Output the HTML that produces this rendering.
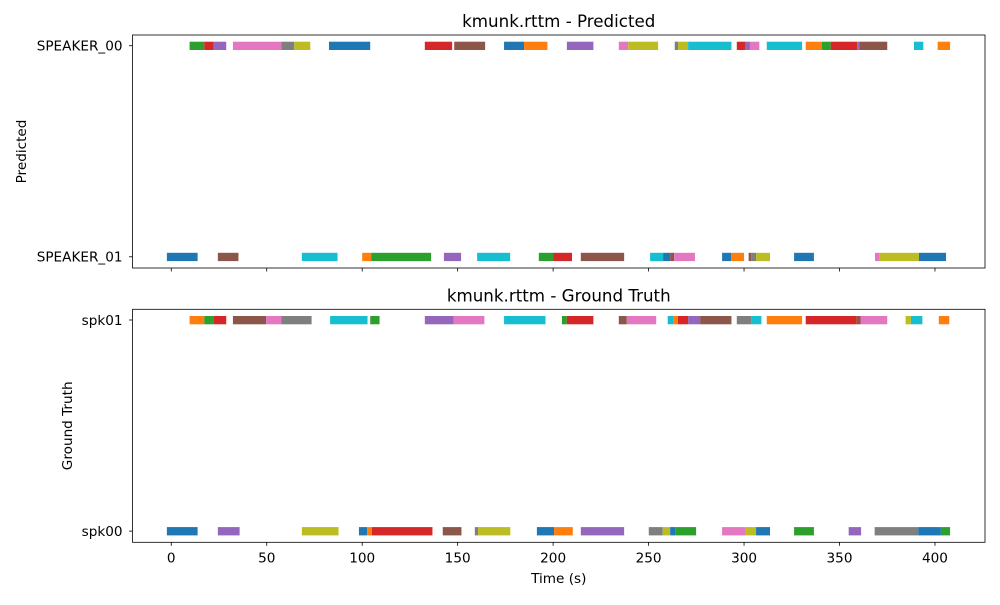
<!DOCTYPE html>
<html><head><meta charset="utf-8"><style>
body{margin:0;background:#fff}
svg text{font-family:"DejaVu Sans","Liberation Sans",sans-serif;fill:#000}
</style></head><body>
<svg id="chart" width="1000" height="600" xmlns="http://www.w3.org/2000/svg"></svg>
<script>
const xTicks=[0,50,100,150,200,250,300,350,400];
const predSpeakers=["SPEAKER_00","SPEAKER_01"];
const gtSpeakers=["spk01","spk00"];
// Predicted SPEAKER_00
const p0Start=[9.6,17.3,22.2,32.3,57.6,64.4,82.6,132.8,148.2,174.3,184.8,207.2,234.4,239.3,263.7,265.4,270.7,296.2,300.7,303.1,311.9,332.3,340.8,345.4,359.3,360.4,389,401.4];
const p0End=[17.3,22.2,28.8,57.6,64.4,72.8,104.2,147.1,164.4,184.8,197,221.1,239.3,255,265.4,270.7,293.4,300.7,303.1,308,330.4,340.8,345.4,359.3,360.4,375,393.9,407.9];
const p0Col=[2,3,4,6,7,8,0,3,5,0,1,4,6,8,7,8,9,3,4,6,9,1,2,3,4,5,9,1];
// Predicted SPEAKER_01
const p1Start=[-2.3,24.4,68.4,100,104.7,142.8,160.2,192.5,200.2,214.5,250.8,257.6,261.3,263.4,288.5,293.2,302.4,303.8,306.3,326.2,368.6,370.9,391.6];
const p1End=[13.8,35.2,87.1,104.7,136.1,151.8,177.5,200.2,209.9,237.2,257.6,261.3,263.4,274.3,293.2,300,303.8,306.3,313.6,336.6,370.9,391.6,405.8];
const p1Col=[0,5,9,1,2,4,9,2,3,5,9,0,5,6,0,1,5,7,8,0,6,8,0];
// Ground truth spk01
const g1Start=[9.6,17.3,22.2,32.3,49.7,57.6,83.2,104.2,132.8,147.8,174.3,204.6,207.2,234.4,238.6,260,263.2,265.4,270.7,277,296.2,303.7,311.9,332.3,359,361,384.6,387.4,402];
const g1End=[17.3,22.2,28.8,49.7,57.6,73.5,102.8,109.1,147.8,164,196,207.2,221.1,238.6,254,263.2,265.4,270.7,277,293.4,303.7,309.1,330.4,359,361,375,387.4,393.4,407.5];
const g1Col=[1,2,3,5,6,7,9,2,4,6,9,2,3,5,6,9,1,3,4,5,7,9,1,3,5,6,8,9,1];
// Ground truth spk00
const g0Start=[-2.3,24.4,68.4,98.3,102.6,105.1,142.2,159,160.7,191.5,200.5,214.5,250.1,257.4,261.3,263.9,288.5,300.5,306.3,326.2,354.8,368.4,391.2,403.1];
const g0End=[13.8,35.8,87.6,102.6,105.1,136.8,152,160.7,177.6,200.5,210.3,237.2,257.4,261.3,263.9,274.9,300.5,306.3,313.6,336.6,361.3,391.2,403.1,407.9];
const g0Col=[0,4,8,0,1,3,5,7,8,0,1,4,7,8,0,2,6,8,0,2,4,7,0,2];

const tab=["#1f77b4","#ff7f0e","#2ca02c","#d62728","#9467bd","#8c564b","#e377c2","#7f7f7f","#bcbd22","#17becf"];
const NS="http://www.w3.org/2000/svg";
const svg=document.getElementById("chart");
const L=132.5,R=985,xMin=-20.3,xMax=426.2;
const xs=v=>L+(v-xMin)/(xMax-xMin)*(R-L);
function mk(tag,attrs,parent){const e=document.createElementNS(NS,tag);for(const k in attrs)e.setAttribute(k,attrs[k]);(parent||svg).appendChild(e);return e;}
function panel(top,bot,title,ylabel,ylabelX,cats,rows){
  const y0=top+10.7,y1=bot-11.2;
  const ys=i=>y0+i*(y1-y0)/(cats.length-1);
  const g=mk("g",{});
  
  
  rows.forEach((r,ri)=>{
    r.s.forEach((s,i)=>{
      const b=mk("rect",{x:xs(s),y:ys(ri)-4,width:Math.max(0.5,xs(r.e[i])-xs(s)),height:8.3,fill:tab[r.c[i]]},g);
      
      
    });
  });
  const fr=mk("rect",{x:L,y:top,width:R-L,height:bot-top,fill:"none",stroke:"#000","stroke-width":0.8},g);
  
  
  cats.forEach((c,i)=>{
    mk("line",{x1:L-3.5,x2:L,y1:ys(i),y2:ys(i),stroke:"#000","stroke-width":0.8},g);
    const t=mk("text",{x:L-10,y:ys(i)+4.8,"text-anchor":"end","font-size":13.6},g);
    t.textContent=c;
    
    
  });
  xTicks.forEach(v=>mk("line",{x1:xs(v),x2:xs(v),y1:bot,y2:bot+3.5,stroke:"#000","stroke-width":0.8},g));
  const tt=mk("text",{x:(L+R)/2,y:top-8,"text-anchor":"middle","font-size":16.7},g);
  tt.textContent=title;
  
  
  const yl=mk("text",{x:ylabelX,y:(top+bot)/2,"text-anchor":"middle","font-size":13.6,transform:`rotate(-90 ${ylabelX} ${(top+bot)/2})`},g);
  yl.textContent=ylabel;
  
  
}
panel(35,268,"kmunk.rttm - Predicted","Predicted",26,predSpeakers,[{s:p0Start,e:p0End,c:p0Col},{s:p1Start,e:p1End,c:p1Col}]);
panel(309.3,542.3,"kmunk.rttm - Ground Truth","Ground Truth",72,gtSpeakers,[{s:g1Start,e:g1End,c:g1Col},{s:g0Start,e:g0End,c:g0Col}]);
xTicks.forEach(v=>{
  const t=mk("text",{x:xs(v),y:562.5,"text-anchor":"middle","font-size":13.6});
  t.textContent=v;
  
  
});
const xl=mk("text",{x:(L+R)/2,y:583,"text-anchor":"middle","font-size":13.6});
xl.textContent="Time (s)";


</script>
</body></html>
